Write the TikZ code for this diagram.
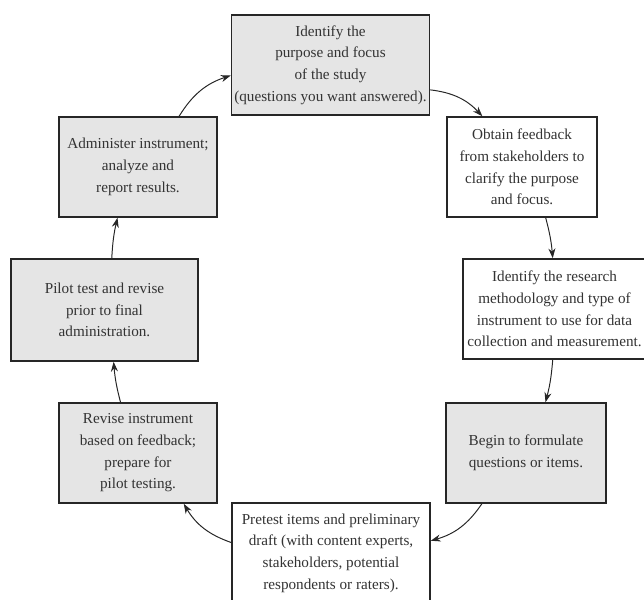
\documentclass[tikz,border=0pt]{standalone}
\usepackage{fontspec}
\setmainfont{Liberation Serif}
\usetikzlibrary{arrows.meta}
\tikzset{
  stage/.style={draw=black!85, line width=1.1pt, fill=white, align=center, text=black!80,
    inner sep=2pt, minimum height=2.5cm, font=\fontsize{10.8}{15.4}\selectfont},
  shaded/.style={stage, fill=black!10},
  flow/.style={-{Stealth[length=7pt,width=5pt]}, line width=0.7pt, draw=black!85}
}
\begin{document}
\begin{tikzpicture}[x=0.025cm,y=0.025cm]
\useasboundingbox (0,0) rectangle (644,599);
\node[shaded, minimum width=4.925cm] (top) at (330.5,534) {Identify the\\purpose and focus\\of the study\\(questions you want answered).};
\node[stage, minimum width=3.75cm] (obtain) at (522,432) {Obtain feedback\\from stakeholders to\\clarify the purpose\\and focus.};
\node[stage, minimum width=4.575cm] (research) at (554.5,290) {Identify the research\\methodology and type of\\instrument to use for data\\collection and measurement.};
\node[shaded, minimum width=4cm] (begin) at (526,146) {Begin to formulate\\questions or items.};
\node[stage, minimum width=4.95cm] (pretest) at (331,46) {Pretest items and preliminary\\draft (with content experts,\\stakeholders, potential\\respondents or raters).};
\node[shaded, minimum width=3.95cm] (revise) at (138,146) {Revise instrument\\based on feedback;\\prepare for\\pilot testing.};
\node[shaded, minimum width=4.675cm, minimum height=2.55cm] (pilot) at (104.5,289) {Pilot test and revise\\prior to final\\administration.};
\node[shaded, minimum width=3.95cm] (admin) at (138,432) {Administer instrument;\\analyze and\\report results.};
\draw[flow] (top.-14) to[bend left=20] (obtain.128);
\draw[flow] (obtain.-65) to[bend left=5] (research.92);
\draw[flow] (research.-92) to[bend left=5] (begin.69);
\draw[flow] (begin.229) to[bend left=20] (pretest.7);
\draw[flow] (pretest.174) to[bend left=20] (revise.-48);
\draw[flow] (revise.109) to[bend left=5] (pilot.-80);
\draw[flow] (pilot.82) to[bend left=5] (admin.-112);
\draw[flow] (admin.51) to[bend left=20] (top.186);
\end{tikzpicture}
\end{document}
